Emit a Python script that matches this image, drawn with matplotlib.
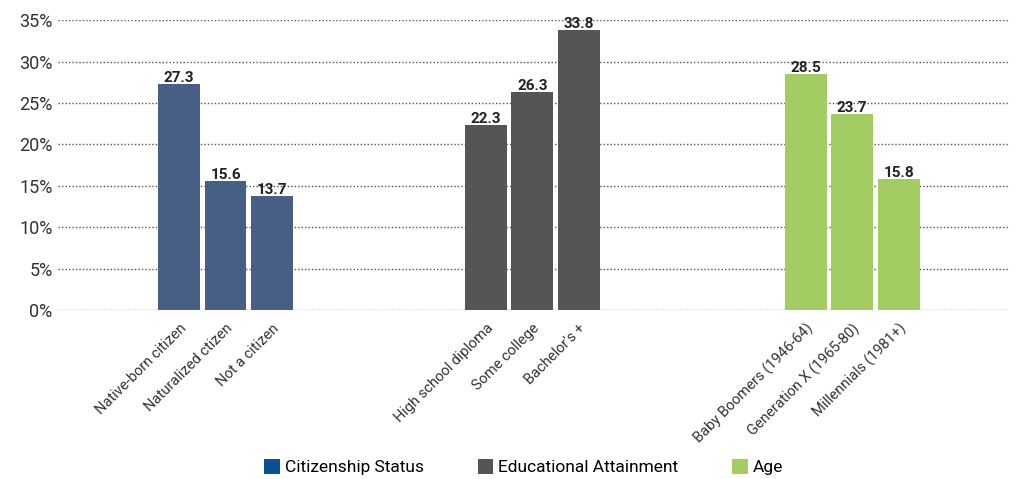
import matplotlib
matplotlib.use("Agg")
import matplotlib.pyplot as plt
from matplotlib.patches import Patch

categories = ["Native-born citizen", "Naturalized ctizen", "Not a citizen",
              "High school diploma", "Some college", "Bachelor's +",
              "Baby Boomers (1946-64)", "Generation X (1965-80)", "Millennials (1981+)"]
values = [27.3, 15.6, 13.7, 22.3, 26.3, 33.8, 28.5, 23.7, 15.8]
groups = ["Citizenship Status", "Educational Attainment", "Age"]
group_of = [0, 0, 0, 1, 1, 1, 2, 2, 2]
yticks = [0, 5, 10, 15, 20, 25, 30, 35]

bar_colors = ["#475E85", "#555555", "#A3CD62"]
legend_colors = ["#0B4F96", "#555555", "#A3CD62"]
positions = [0, 1, 2, 6.6, 7.6, 8.6, 13.48, 14.48, 15.48]

plt.rcParams['font.family'] = ['Roboto', 'DejaVu Sans']
fig = plt.figure(figsize=(10.21, 4.79), dpi=100)
ax = fig.add_axes([0.057, 0.353, 0.932, 0.605])

cols = [bar_colors[g] for g in group_of]
bars = ax.bar(positions, values, width=0.9, color=cols, zorder=3)
for b, v in zip(bars, values):
    ax.text(b.get_x() + b.get_width() / 2, v - 0.1, f"{v:.1f}", ha='center', va='bottom',
            fontsize=11, fontweight='bold', color='#222222', zorder=4)

ax.set_ylim(0, 35)
ax.set_xlim(-2.6, 17.87)
ax.set_yticks(yticks)
ax.set_yticklabels([f"{t}%" for t in yticks], fontsize=13, color='#333333')
ax.set_xticks(positions)
ax.set_xticklabels(categories, rotation=45, ha='right', rotation_mode='anchor',
                   fontsize=10.5, color='#333333')
ax.tick_params(axis='both', length=0, pad=4)
ax.tick_params(axis='x', pad=8)
for s in ax.spines.values():
    s.set_visible(False)
ax.yaxis.grid(True, linestyle=(0, (1, 1.5)), color='#555555', linewidth=1.0, zorder=0)
ax.set_axisbelow(True)

handles = [Patch(facecolor=c, edgecolor='none') for c in legend_colors]
fig.legend(handles, groups, loc='lower center', bbox_to_anchor=(0.513, -0.025), ncol=3,
           frameon=False, fontsize=12.5, handlelength=0.9, handleheight=0.9,
           handletextpad=0.3, columnspacing=3.1)

fig.savefig("out.png", dpi=100)
